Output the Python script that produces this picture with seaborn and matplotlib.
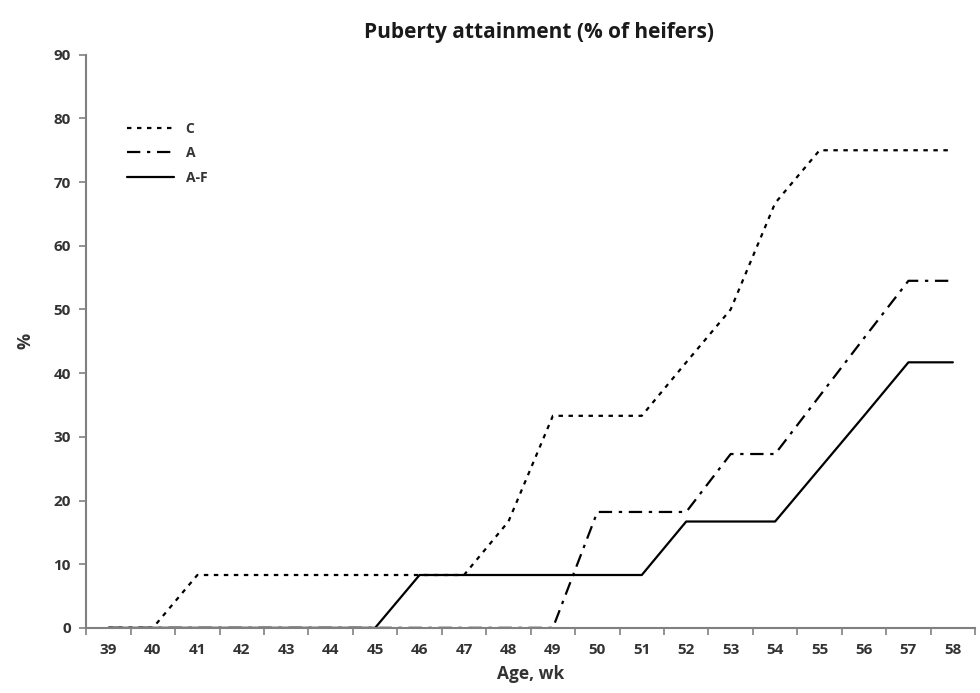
import matplotlib
matplotlib.use("Agg")
import matplotlib.pyplot as plt
import seaborn as sns
import pandas as pd
import numpy as np

weeks = list(range(39, 59))
c_vals = [0, 0, 8.3, 8.3, 8.3, 8.3, 8.3, 8.3, 8.3, 16.7, 33.3, 33.3, 33.3, 41.7, 50.0, 66.7, 75.0, 75.0, 75.0, 75.0]
a_vals = [0, 0, 0, 0, 0, 0, 0, 0, 0, 0, 0, 18.2, 18.2, 18.2, 27.3, 27.3, 36.4, 45.5, 54.5, 54.5]
af_vals = [0, 0, 0, 0, 0, 0, 0, 8.3, 8.3, 8.3, 8.3, 8.3, 8.3, 16.7, 16.7, 16.7, 25.0, 33.3, 41.7, 41.7]
groups = ["C", "A", "A-F"]
y_ticks = list(range(0, 100, 10))

df = pd.DataFrame({
    "week": weeks * 3,
    "value": c_vals + a_vals + af_vals,
    "group": ["C"] * len(weeks) + ["A"] * len(weeks) + ["A-F"] * len(weeks),
})

sns.set_theme(style="white")
plt.rcParams["font.family"] = ["Open Sans", "DejaVu Sans"]

fig = plt.figure(figsize=(9.8, 6.93), dpi=100)
ax = fig.add_axes([0.088, 0.094, 0.907, 0.827])

dashes = {"C": (2, 2.5), "A": (6, 3, 1.5, 3), "A-F": ""}
sns.lineplot(data=df, x="week", y="value", hue="group", style="group",
             hue_order=groups, style_order=groups,
             palette={g: "black" for g in groups}, dashes=dashes,
             linewidth=1.6, ax=ax, legend=True)

ax.set_xlim(38.5, 58.5)
ax.set_ylim(0, 90)
ax.set_xticks(weeks)
ax.set_xticklabels([str(w) for w in weeks], fontsize=11, fontweight="bold", color="#333333")
ax.set_xticks(np.arange(38.5, 59, 1), minor=True)
ax.tick_params(axis="x", which="major", length=0, pad=11)
ax.tick_params(axis="x", which="minor", length=5, color="#808080", width=1.2, direction="out", bottom=True)
ax.set_yticks(y_ticks)
ax.set_yticklabels([str(v) for v in y_ticks], fontsize=11, fontweight="bold", color="#333333")
ax.tick_params(axis="y", which="major", length=5, color="#808080", width=1.2, direction="out", left=True, pad=6)

for s in ["top", "right"]:
    ax.spines[s].set_visible(False)
for s in ["left", "bottom"]:
    ax.spines[s].set_color("#808080")
    ax.spines[s].set_linewidth(1.5)

ax.set_xlabel("Age, wk", fontsize=12.5, fontweight="bold", color="#333333", labelpad=6)
ax.set_ylabel("%", fontsize=13, fontweight="bold", color="#333333", labelpad=14)
fig.suptitle("Puberty attainment (% of heifers)", x=0.55, y=0.968, fontsize=15, fontweight="bold", color="#1a1a1a")

leg = ax.legend(loc="upper left", bbox_to_anchor=(0.032, 0.905), frameon=False,
                fontsize=10, handlelength=3.4, labelspacing=0.75, title=None)
for t in leg.get_texts():
    t.set_fontweight("bold")
    t.set_color("#333333")

fig.savefig("out.png", dpi=100)
